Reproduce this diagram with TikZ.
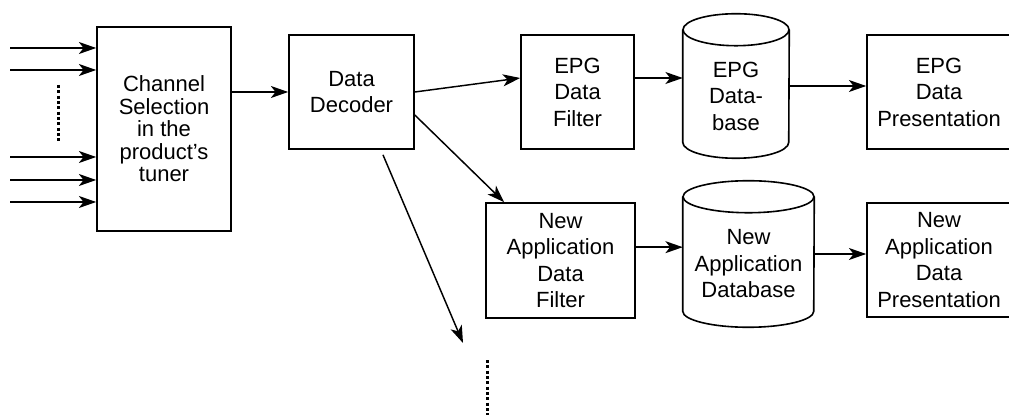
\documentclass[tikz,border=0pt]{standalone}
\usepackage{fontspec}
\setmainfont{Liberation Sans}
\usetikzlibrary{arrows.meta}

\tikzset{
	schrift/.style={align=center,font=\fontsize{16.5}{19.9}\selectfont},
	kasten/.style={draw,line width=1.2pt,inner sep=0pt,schrift},
	speicher/.style={inner sep=0pt},
	linie/.style={line width=1.2pt},
	pfeil/.style={line width=1.1pt,-{Stealth[length=13pt,width=9pt,inset=3.5pt]}},
	punkte/.style={line width=2.25pt,dash pattern=on 2.25pt off 1.75pt},
}

\begin{document}
\begin{tikzpicture}[x=0.75pt,y=-0.75pt]
	\useasboundingbox (0,0) rectangle (1009,416);
	% Kaesten
	\node[kasten,minimum width=100.5pt,minimum height=153pt,font=\fontsize{16.5}{16.9}\selectfont] (kanal) at (164,129) {Channel\\Selection\\in the\\product's\\tuner};
	\node[kasten,minimum width=93.75pt,minimum height=85.5pt] (dekoder) at (351.5,92) {Data\\Decoder};
	\node[kasten,minimum width=84.75pt,minimum height=85.5pt] (epgfilter) at (577.5,92) {EPG\\Data\\Filter};
	\node[kasten,minimum width=108pt,minimum height=85.5pt] (epgpres) at (939,92) {EPG\\Data\\Presentation};
	\node[kasten,minimum width=111.75pt,minimum height=86.25pt] (nafilter) at (560.5,260.5) {New\\Application\\Data\\Filter};
	\node[kasten,minimum width=108pt,minimum height=85.5pt] (napres) at (939,260) {New\\Application\\Data\\Presentation};
	% Datenbanken
	\node[speicher,minimum width=79.5pt,minimum height=84pt,label={[schrift,yshift=-7.5pt]center:{EPG\\Data-\\base}}] (epgdb) at (736,86) {};
	\node[speicher,minimum width=98.25pt,minimum height=85.5pt,label={[schrift,yshift=-7.5pt]center:{New\\Application\\Database}}] (nadb) at (748.5,254) {};
	\draw[linie] (epgdb.north west) -- (epgdb.south west) arc[start angle=180,end angle=360,x radius=39.75pt,y radius=12pt] -- (epgdb.north east);
	\draw[linie] (epgdb.north) ellipse[x radius=39.75pt,y radius=12pt];
	\draw[linie] (nadb.north west) -- (nadb.south west) arc[start angle=180,end angle=360,x radius=49.125pt,y radius=12pt] -- (nadb.north east);
	\draw[linie] (nadb.north) ellipse[x radius=49.125pt,y radius=12pt];
	% Eingaenge
	\coordinate (e1) at (10,48);
	\coordinate (e2) at (10,70);
	\coordinate (e3) at (10,157);
	\coordinate (e4) at (10,180);
	\coordinate (e5) at (10,202);
	\coordinate (aus) at (463,343);
	\draw[pfeil] (e1) to (e1 -| kanal.west);
	\draw[pfeil] (e2) to (e2 -| kanal.west);
	\draw[pfeil] (e3) to (e3 -| kanal.west);
	\draw[pfeil] (e4) to (e4 -| kanal.west);
	\draw[pfeil] (e5) to (e5 -| kanal.west);
	\draw[punkte] (58,85) to (58,143);
	% Verbindungen
	\draw[pfeil] (dekoder.west -| kanal.east) to (dekoder.west);
	\draw[pfeil] (dekoder.east) to ([yshift=10.5pt]epgfilter.west);
	\draw[pfeil] ([yshift=10.5pt]epgfilter.east) to ([yshift=10.5pt]epgfilter.east -| epgdb.west);
	\draw[pfeil] (epgdb.east) to (epgdb.east -| epgpres.west);
	\draw[pfeil] ([yshift=-17.25pt]dekoder.east) to ([xshift=14.25pt]nafilter.north west);
	\draw[pfeil] ([xshift=23.6pt,yshift=-3.75pt]dekoder.south) to (aus);
	\draw[pfeil] ([yshift=10pt]nafilter.east) to ([yshift=10pt]nafilter.east -| nadb.west);
	\draw[pfeil] (nadb.east) to (nadb.east -| napres.west);
	\draw[punkte] (487,360) to (487,415);
\end{tikzpicture}
\end{document}
